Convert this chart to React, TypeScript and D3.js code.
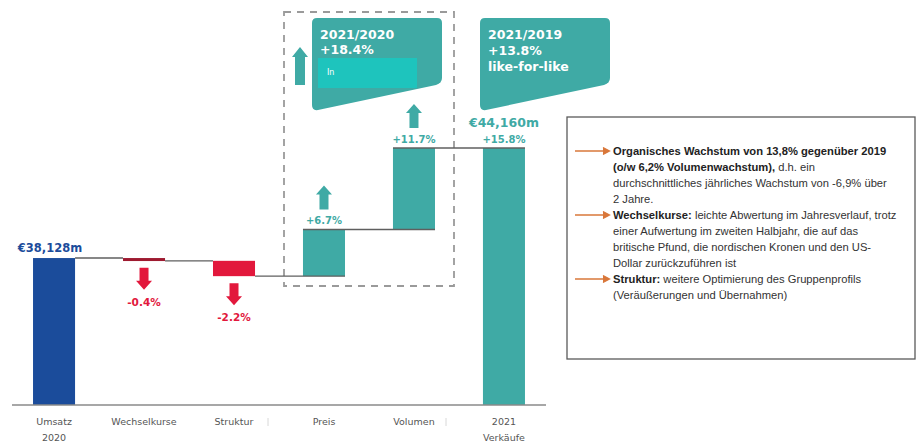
import React from 'react';
import * as d3 from 'd3';

// waterfall data (index: Umsatz 2020 = 100)
const categories = ['Umsatz 2020', 'Wechselkurse', 'Struktur', 'Preis', 'Volumen', '2021 Verkäufe'];
const categoryLines = [['Umsatz', '2020'], ['Wechselkurse'], ['Struktur'], ['Preis'], ['Volumen'], ['2021', 'Verkäufe']];
const startIndex = 100;
const stepChanges = [-0.4, -2.2, 6.7, 11.7];
const stepLabels = ['-0.4%', '-2.2%', '+6.7%', '+11.7%'];
const startLabel = '€38,128m';
const endLabel = '€44,160m';
const endChangeLabel = '+15.8%';
const callout1 = ['2021/2020', '+18.4%'];
const callout1Inner = 'In';
const callout2 = ['2021/2019', '+13.8%', 'like-for-like'];

// note box lines: [bold part, regular part, arrow?]
const notes: [string, string, boolean][] = [
  ['Organisches Wachstum von 13,8% gegenüber 2019', '', true],
  ['(o/w 6,2% Volumenwachstum),', ' d.h. ein', false],
  ['', 'durchschnittliches jährliches Wachstum von -6,9% über', false],
  ['', '2 Jahre.', false],
  ['Wechselkurse:', ' leichte Abwertung im Jahresverlauf, trotz', true],
  ['', 'einer Aufwertung im zweiten Halbjahr, die auf das', false],
  ['', 'britische Pfund, die nordischen Kronen und den US-', false],
  ['', 'Dollar zurückzuführen ist', false],
  ['Struktur:', ' weitere Optimierung des Gruppenprofils', true],
  ['', '(Veräußerungen und Übernahmen)', false],
];

const W = 917;
const H = 443;
const TEAL = '#3faaa5';
const BLUE = '#1b4c9b';
const RED = '#e2183c';
const DARKRED = '#9e1a30';
const CHART_FONT = '"DejaVu Sans", sans-serif';

function arrowPath(cx: number, tipY: number, baseY: number, shaftW = 9, headW = 16, headL = 9) {
  const dir = baseY > tipY ? 1 : -1; // 1 = pointing up
  const neck = tipY + dir * headL;
  return `M${cx},${tipY} L${cx + headW / 2},${neck} L${cx + shaftW / 2},${neck} L${cx + shaftW / 2},${baseY} ` +
    `L${cx - shaftW / 2},${baseY} L${cx - shaftW / 2},${neck} L${cx - headW / 2},${neck} Z`;
}

function calloutPath(x0: number, x1: number) {
  return `M${x0},23 Q${x0},18 ${x0 + 5},18 H${x1 - 5} Q${x1},18 ${x1},23 V78 Q${x1},83 ${x1 - 6},85 ` +
    `L${x0 + 6},110 Q${x0},111 ${x0},105 Z`;
}

export default function App() {
  const x = d3.scaleBand<string>().domain(categories).range([9, 549]).paddingInner(0.533).paddingOuter(0.267);
  const y = d3.scaleLinear().domain([78.9, 115.8]).range([405, 148]);
  const bw = x.bandwidth();

  // cumulative levels
  const levels = [startIndex];
  stepChanges.forEach((c) => levels.push(+(levels[levels.length - 1] + c).toFixed(2)));
  const endIndex = levels[levels.length - 1];

  type Bar = { key: string; y0: number; y1: number; color: string };
  const bars: Bar[] = [];
  bars.push({ key: categories[0], y0: y.domain()[0], y1: startIndex, color: BLUE });
  stepChanges.forEach((c, i) => {
    bars.push({
      key: categories[i + 1],
      y0: Math.min(levels[i], levels[i + 1]),
      y1: Math.max(levels[i], levels[i + 1]),
      color: c < 0 ? (i === 0 ? DARKRED : RED) : TEAL,
    });
  });
  bars.push({ key: categories[5], y0: y.domain()[0], y1: endIndex, color: TEAL });

  return (
    <svg width={W} height={H} style={{ position: 'absolute', left: 0, top: 0, background: '#fff' }}>
      {/* dashed box around price & volume */}
      <rect x={284} y={12} width={170} height={274} fill="none" stroke="#9a9a9a" strokeWidth={1.8} strokeDasharray="7,6" />

      {/* callouts */}
      <path d={calloutPath(312, 442)} fill={TEAL} />
      <rect x={318} y={58} width={99} height={30} fill="#1ec4bd" />
      <text x={327} y={75} fill="#fff" fontSize={8} fontFamily={CHART_FONT}>{callout1Inner}</text>
      {callout1.map((t, i) => (
        <text key={t} x={320} y={39 + i * 15} fill="#fff" fontSize={12.5} fontWeight="bold" fontFamily={CHART_FONT}>{t}</text>
      ))}
      <path d={calloutPath(480, 610)} fill={TEAL} />
      {callout2.map((t, i) => (
        <text key={t} x={488} y={39 + i * 16} fill="#fff" fontSize={12.5} fontWeight="bold" fontFamily={CHART_FONT}>{t}</text>
      ))}
      <path d={arrowPath(300, 47, 85, 10, 16, 10)} fill={TEAL} />

      {/* bars */}
      {bars.map((b) => (
        <rect key={b.key} x={x(b.key)} y={y(b.y1)} width={bw} height={Math.max(3, y(b.y0) - y(b.y1))} fill={b.color} />
      ))}

      {/* connectors */}
      {categories.slice(0, -1).map((c, i) => (
        <line key={'c' + c} x1={x(c)! + bw} x2={x(categories[i + 1])! + (i >= 2 ? bw : 0)}
          y1={y(levels[i])} y2={y(levels[i])} stroke="#5f5f5f" strokeWidth={1.4} />
      ))}
      {[2, 3].map((i) => (
        <line key={'ct' + i} x1={x(categories[i + 1])!} x2={x(categories[i + 1])! + bw}
          y1={y(levels[i + 1])} y2={y(levels[i + 1])} stroke="#5f5f5f" strokeWidth={1.4} />
      ))}

      {/* step arrows + labels */}
      {stepChanges.map((c, i) => {
        const cx = x(categories[i + 1])! + bw / 2;
        if (c < 0) {
          const bottom = y(levels[i + 1]);
          return (
            <g key={'a' + i}>
              <path d={arrowPath(cx, bottom + 29, bottom + 7)} fill={RED} />
              <text x={cx} y={bottom + 45} textAnchor="middle" fill={RED} fontSize={10.5} fontWeight="bold" fontFamily={CHART_FONT}>{stepLabels[i]}</text>
            </g>
          );
        }
        const top = y(levels[i + 1]);
        return (
          <g key={'a' + i}>
            <path d={arrowPath(cx, top - 44, top - 20)} fill={TEAL} />
            <text x={cx} y={top - 5} textAnchor="middle" fill={TEAL} fontSize={10} fontWeight="bold" fontFamily={CHART_FONT}>{stepLabels[i]}</text>
          </g>
        );
      })}

      {/* total labels */}
      <text x={x(categories[0])! + bw / 2 - 4} y={y(startIndex) - 6} textAnchor="middle" fill={BLUE} fontSize={11.5} fontWeight="bold" fontFamily={CHART_FONT}>{startLabel}</text>
      <text x={x(categories[5])! + bw / 2} y={y(endIndex) - 21} textAnchor="middle" fill={TEAL} fontSize={12.5} fontWeight="bold" fontFamily={CHART_FONT}>{endLabel}</text>
      <text x={x(categories[5])! + bw / 2} y={y(endIndex) - 5} textAnchor="middle" fill={TEAL} fontSize={10} fontWeight="bold" fontFamily={CHART_FONT}>{endChangeLabel}</text>

      {/* x axis */}
      <line x1={12} x2={546} y1={405} y2={405} stroke="#8a8a8a" strokeWidth={1.5} />
      {[268, 446].map((tx) => (
        <line key={tx} x1={tx} x2={tx} y1={418} y2={426} stroke="#d8d8d8" strokeWidth={1} />
      ))}
      {categories.map((c, i) => (
        <text key={'l' + c} x={x(c)! + bw / 2} y={425} textAnchor="middle" fill="#555" fontSize={9.5} fontFamily={CHART_FONT}>
          {categoryLines[i].map((ln, j) => (
            <tspan key={ln} x={x(c)! + bw / 2} dy={j === 0 ? 0 : 16}>{ln}</tspan>
          ))}
        </text>
      ))}

      {/* notes box */}
      <rect x={567} y={117} width={348} height={242} fill="#fff" stroke="#5a5a5a" strokeWidth={1.3} />
      {notes.map(([b, r, arrow], i) => {
        const by = 155 + i * 16;
        return (
          <g key={'n' + i}>
            {arrow && (
              <g stroke="#d9773a" strokeWidth={1.3} fill="none">
                <line x1={575} x2={609} y1={by - 4} y2={by - 4} />
                <path d={`M603,${by - 7.5} L609.5,${by - 4} L603,${by - 0.5}`} fill="#d9773a" />
              </g>
            )}
            <text x={613} y={by} fontSize={11.2} fontFamily='"Liberation Sans", Arial, sans-serif' fill="#333">
              {b && <tspan fontWeight="bold" fill="#222">{b}</tspan>}
              {r && <tspan>{r}</tspan>}
            </text>
          </g>
        );
      })}
    </svg>
  );
}
